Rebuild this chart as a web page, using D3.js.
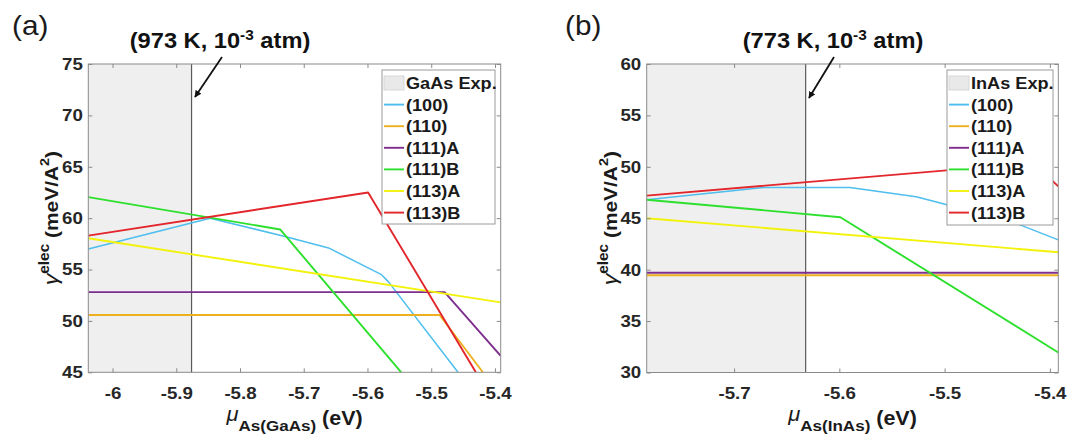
<!DOCTYPE html>
<html><head><meta charset="utf-8">
<script src="https://cdn.jsdelivr.net/npm/d3@7"></script>
<style>body{margin:0;background:#fff;} text{font-family:"Liberation Sans",Arial,Helvetica,sans-serif;}</style>
</head><body><svg id="c" width="1067" height="435"></svg>
<script>
// ---------- data ----------
const seriesNames = ["(100)", "(110)", "(111)A", "(111)B", "(113)A", "(113)B"];
const seriesColors = ["#4DBEEE", "#EDB120", "#7E2F8E", "#2EE02E", "#F2F20A", "#E3262B"];

// panel (a) GaAs, 973 K
const gaasXDomain = [-6.038, -5.391];
const gaasYDomain = [45, 75];
const gaasXTicks = [-6, -5.9, -5.8, -5.7, -5.6, -5.5, -5.4];
const gaasYTicks = [45, 50, 55, 60, 65, 70, 75];
const gaasExpLimit = -5.876;
const gaas100  = [[-6.038, 57.0], [-5.847, 60.0], [-5.728, 58.2], [-5.661, 57.1], [-5.578, 54.5], [-5.567, 53.8], [-5.458, 45.0]];
const gaas110  = [[-6.038, 50.58], [-5.487, 50.58], [-5.419, 45.0]];
const gaas111A = [[-6.038, 52.8], [-5.479, 52.8], [-5.391, 46.6]];
const gaas111B = [[-6.038, 62.05], [-5.737, 58.9], [-5.547, 45.0]];
const gaas113A = [[-6.038, 58.05], [-5.391, 51.8]];
const gaas113B = [[-6.038, 58.3], [-5.599, 62.5], [-5.430, 45.0]];

// panel (b) InAs, 773 K
const inasXDomain = [-5.783, -5.392];
const inasYDomain = [30, 60];
const inasXTicks = [-5.7, -5.6, -5.5, -5.4];
const inasYTicks = [30, 35, 40, 45, 50, 55, 60];
const inasExpLimit = -5.632;
const inas100  = [[-5.783, 46.8], [-5.672, 48.0], [-5.590, 48.0], [-5.527, 47.1], [-5.505, 46.5], [-5.432, 44.5], [-5.392, 42.9]];
const inas110  = [[-5.783, 39.45], [-5.392, 39.45]];
const inas111A = [[-5.783, 39.7], [-5.392, 39.7]];
const inas111B = [[-5.783, 46.8], [-5.599, 45.1], [-5.392, 31.95]];
const inas113A = [[-5.783, 45.0], [-5.392, 41.7]];
const inas113B = [[-5.783, 47.2], [-5.4155, 50.37], [-5.392, 48.1]];

const panels = [
  {label: "(a)", labelX: 12, titleX: 220, arrow: [[222, 57], [195, 97]],
   box: {x0: 88.3, x1: 500.7, y0: 64, y1: 372.3},
   xDomain: gaasXDomain, yDomain: gaasYDomain, xTicks: gaasXTicks, yTicks: gaasYTicks,
   exp: gaasExpLimit, expName: "GaAs Exp.", sub: "As(GaAs)", T: "973",
   series: [gaas100, gaas110, gaas111A, gaas111B, gaas113A, gaas113B],
   legend: {x: 382, y: 70, w: 113, h: 154}},
  {label: "(b)", labelX: 565, titleX: 833, arrow: [[834, 57], [809, 98]],
   box: {x0: 646.7, x1: 1058.3, y0: 64, y1: 372.5},
   xDomain: inasXDomain, yDomain: inasYDomain, xTicks: inasXTicks, yTicks: inasYTicks,
   exp: inasExpLimit, expName: "InAs Exp.", sub: "As(InAs)", T: "773",
   series: [inas100, inas110, inas111A, inas111B, inas113A, inas113B],
   legend: {x: 947, y: 70, w: 106, h: 155}}
];

// ---------- drawing ----------
const svg = d3.select("#c");
const SX = 1.1; // horizontal stretch of text seen in the reference
const fmt = d => String(+d.toFixed(1));

svg.append("defs").append("marker")
  .attr("id", "arr").attr("viewBox", "0 0 10 10").attr("refX", 9).attr("refY", 5)
  .attr("markerWidth", 7).attr("markerHeight", 7).attr("markerUnits", "userSpaceOnUse")
  .attr("orient", "auto")
  .append("path").attr("d", "M0,0 L10,5 L0,10 Z").attr("fill", "#111");

panels.forEach(p => {
  const b = p.box;
  const x = d3.scaleLinear().domain(p.xDomain).range([b.x0, b.x1]);
  const y = d3.scaleLinear().domain(p.yDomain).range([b.y1, b.y0]);
  const g = svg.append("g");

  // experimental region
  g.append("rect").attr("x", b.x0).attr("y", b.y0)
    .attr("width", x(p.exp) - b.x0).attr("height", b.y1 - b.y0).attr("fill", "#efefef");
  g.append("line").attr("x1", x(p.exp)).attr("x2", x(p.exp)).attr("y1", b.y0).attr("y2", b.y1)
    .attr("stroke", "#5a5a5a").attr("stroke-width", 1.2);

  // series
  const line = d3.line().x(d => x(d[0])).y(d => y(d[1]));
  const clipId = "clip" + p.label.replace(/\W/g, "");
  svg.select("defs").append("clipPath").attr("id", clipId)
    .append("rect").attr("x", b.x0).attr("y", b.y0).attr("width", b.x1 - b.x0).attr("height", b.y1 - b.y0);
  p.series.forEach((s, i) => {
    g.append("path").attr("d", line(s)).attr("fill", "none")
      .attr("stroke", seriesColors[i]).attr("stroke-width", i === 0 ? 1.5 : 1.9)
      .attr("stroke-linejoin", "round").attr("clip-path", `url(#${clipId})`);
  });

  // axes (MATLAB style: inward ticks on all four sides)
  const styleAxis = (ag) => {
    ag.select(".domain").remove();
    ag.selectAll("line").attr("stroke", "#8a8a8a");
    ag.selectAll("text").attr("font-size", 17).attr("font-weight", "bold").attr("fill", "#262626")
      .attr("transform", `scale(${SX},1)`);
  };
  g.append("g").attr("transform", `translate(0,${b.y1})`)
    .call(d3.axisBottom(x).tickValues(p.xTicks).tickFormat(fmt).tickSizeInner(-4).tickSizeOuter(0).tickPadding(14.5))
    .call(styleAxis);
  g.append("g").attr("transform", `translate(0,${b.y0})`)
    .call(d3.axisTop(x).tickValues(p.xTicks).tickFormat("").tickSizeInner(-4).tickSizeOuter(0))
    .call(styleAxis);
  g.append("g").attr("transform", `translate(${b.x0},0)`)
    .call(d3.axisLeft(y).tickValues(p.yTicks).tickFormat(fmt).tickSizeInner(-4).tickSizeOuter(0).tickPadding(5))
    .call(styleAxis);
  g.append("g").attr("transform", `translate(${b.x1},0)`)
    .call(d3.axisRight(y).tickValues(p.yTicks).tickFormat("").tickSizeInner(-4).tickSizeOuter(0))
    .call(styleAxis);
  g.append("rect").attr("x", b.x0).attr("y", b.y0).attr("width", b.x1 - b.x0).attr("height", b.y1 - b.y0)
    .attr("fill", "none").attr("stroke", "#8a8a8a").attr("stroke-width", 1);

  // legend
  const L = p.legend;
  const lg = g.append("g");
  lg.append("rect").attr("x", L.x).attr("y", L.y).attr("width", L.w).attr("height", L.h)
    .attr("fill", "#fff").attr("stroke", "#9a9a9a").attr("stroke-width", 1);
  const rowY = i => L.y + 13 + i * 21.6;
  lg.append("rect").attr("x", L.x + 2).attr("y", rowY(0) - 7).attr("width", 20).attr("height", 14)
    .attr("fill", "#e9e9e9").attr("stroke", "#cfcfcf").attr("stroke-width", 0.8);
  const legText = (i, t) => lg.append("text")
    .attr("transform", `translate(${L.x + 24},${rowY(i) + 6}) scale(${SX},1)`)
    .attr("font-size", 16.5).attr("font-weight", "bold").attr("fill", "#1a1a1a").text(t);
  legText(0, p.expName);
  seriesNames.forEach((n, i) => {
    lg.append("line").attr("x1", L.x + 2).attr("x2", L.x + 22).attr("y1", rowY(i + 1)).attr("y2", rowY(i + 1))
      .attr("stroke", seriesColors[i]).attr("stroke-width", 1.9);
    legText(i + 1, n);
  });

  // panel label
  svg.append("text").attr("transform", `translate(${p.labelX},35) scale(${SX},1)`)
    .attr("font-size", 27).attr("fill", "#1a1a1a").text(p.label);

  // condition title + arrow
  const tt = svg.append("text").attr("transform", `translate(${p.titleX},48) scale(${SX},1)`)
    .attr("text-anchor", "middle").attr("font-size", 21.5).attr("font-weight", "bold").attr("fill", "#111");
  tt.append("tspan").text(`(${p.T} K, 10`);
  tt.append("tspan").attr("font-size", 14).attr("dy", -8.5).text("-3");
  tt.append("tspan").attr("dy", 8.5).text(" atm)");
  svg.append("line").attr("x1", p.arrow[0][0]).attr("y1", p.arrow[0][1])
    .attr("x2", p.arrow[1][0]).attr("y2", p.arrow[1][1])
    .attr("stroke", "#111").attr("stroke-width", 1.8).attr("marker-end", "url(#arr)");

  // y label
  const cy = (b.y0 + b.y1) / 2;
  const yl = svg.append("text")
    .attr("transform", `translate(${b.x0 - 30},${cy}) rotate(-90) scale(${SX},1)`)
    .attr("text-anchor", "middle").attr("font-size", 19).attr("fill", "#1a1a1a");
  yl.append("tspan").attr("font-weight", "normal").attr("font-style", "italic").attr("font-size", 21).text("γ");
  yl.append("tspan").attr("font-weight", "bold").attr("font-size", 14).attr("dy", -9).text("elec");
  yl.append("tspan").attr("font-weight", "bold").attr("dy", 9).text(" (meV/A");
  yl.append("tspan").attr("font-weight", "bold").attr("font-size", 13).attr("dy", -9).text("2");
  yl.append("tspan").attr("font-weight", "bold").attr("dy", 9).text(")");

  // x label
  const xl = svg.append("text")
    .attr("transform", `translate(${(b.x0 + b.x1) / 2},425) scale(${SX},1)`)
    .attr("text-anchor", "middle").attr("font-size", 19.5).attr("fill", "#1a1a1a");
  xl.append("tspan").attr("font-style", "italic").attr("font-size", 20).attr("dy", -4).text("μ");
  xl.append("tspan").attr("font-weight", "bold").attr("font-size", 15.5).attr("dy", 10).text(p.sub);
  xl.append("tspan").attr("font-weight", "bold").attr("dy", -6).text(" (eV)");
});
</script></body></html>
